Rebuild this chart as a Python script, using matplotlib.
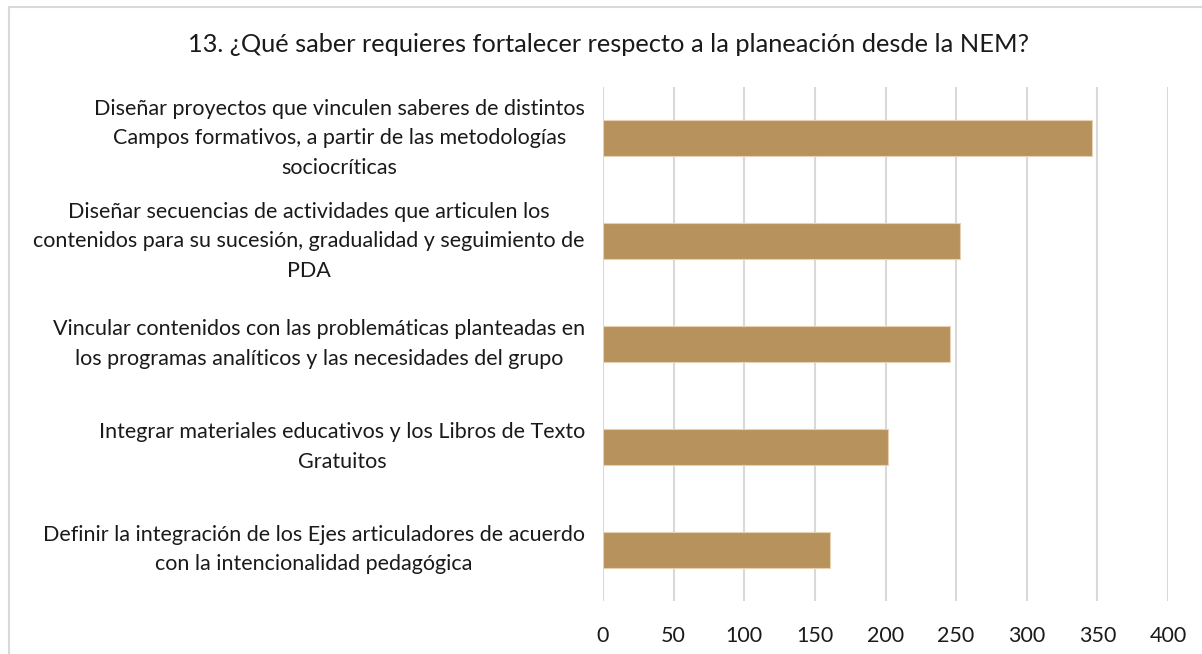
import matplotlib.pyplot as plt
from matplotlib.patches import Rectangle

# data (top to bottom as shown)
categories = [
    "Diseñar proyectos que vinculen saberes de distintos\nCampos formativos, a partir de las metodologías\nsociocríticas",
    "Diseñar secuencias de actividades que articulen los\ncontenidos para su sucesión, gradualidad y seguimiento de\nPDA",
    "Vincular contenidos con las problemáticas planteadas en\nlos programas analíticos y las necesidades del grupo",
    "Integrar materiales educativos y los Libros de Texto\nGratuitos",
    "Definir la integración de los Ejes articuladores de acuerdo\ncon la intencionalidad pedagógica",
]
values = [346, 253, 246, 202, 161]
x_ticks = [0, 50, 100, 150, 200, 250, 300, 350, 400]
title = "13. ¿Qué saber requieres fortalecer respecto a la planeación desde la NEM?"

plt.rcParams['font.family'] = ['Lato', 'DejaVu Sans']

W, H = 1202, 654
fig = plt.figure(figsize=(W / 100, H / 100), dpi=100)

# light chart border (only left/top visible in the crop)
fig.patches.append(Rectangle((9 / W, -0.1), 1.2, 1.1 - 7 / H, transform=fig.transFigure,
                             fill=False, edgecolor='#D9D9D9', linewidth=1.5))

ax = fig.add_axes([603 / W, 53 / H, (1168 - 603) / W, (601 - 87) / H])

pos = list(range(len(categories)))[::-1]
ax.barh(pos, values, height=0.35, color='#B8925C', edgecolor='#E6D2B2', linewidth=0.8, zorder=3)

ax.set_xlim(0, 400)
ax.set_ylim(-0.5, len(categories) - 0.5)
ax.set_xticks(x_ticks)
ax.set_xticklabels([str(t) for t in x_ticks], fontsize=15.5, color='#1a1a1a')
ax.set_yticks(pos)
ax.set_yticklabels(categories, fontsize=15.5, color='#1a1a1a', multialignment='center',
                   linespacing=1.6, va='center')
ax.tick_params(axis='both', length=0)
ax.tick_params(axis='y', pad=13)
ax.tick_params(axis='x', pad=18)
ax.grid(axis='x', color='#D9D9D9', linewidth=1.5, zorder=0)
for s in ax.spines.values():
    s.set_visible(False)

fig.text(609 / W, 1 - 45 / H, title, ha='center', va='center', fontsize=18.3, color='#1a1a1a')

fig.savefig('out.png', dpi=100, facecolor='white')
